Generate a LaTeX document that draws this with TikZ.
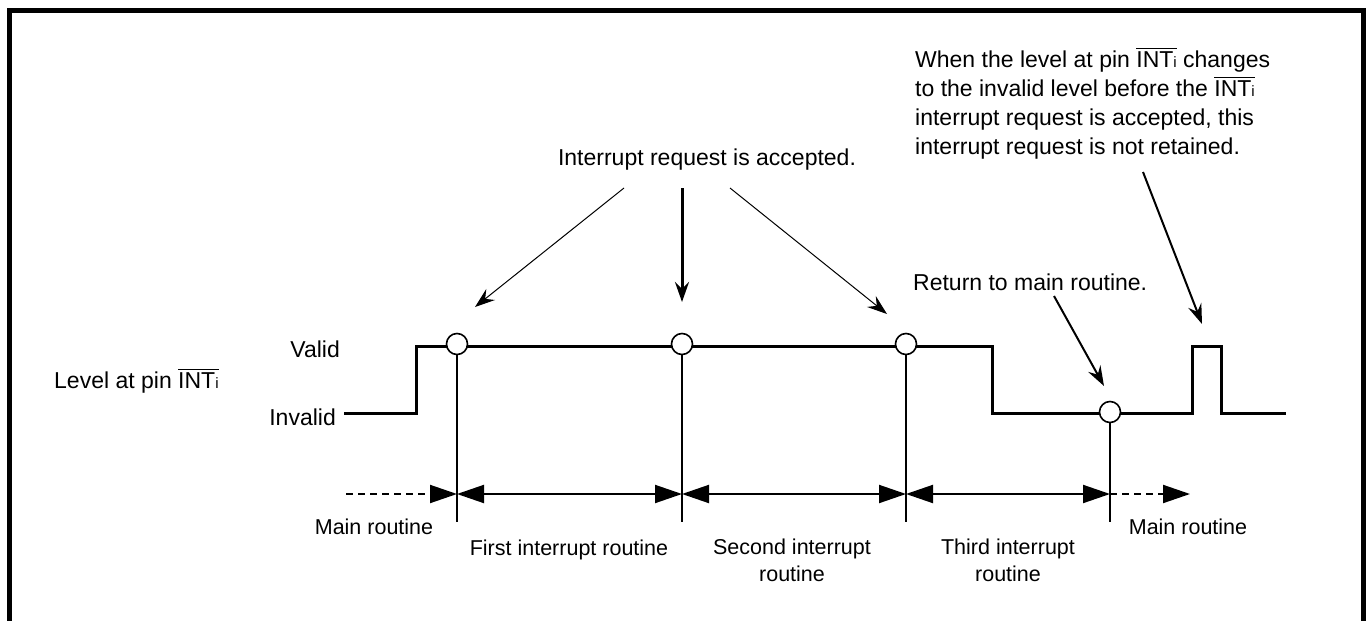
\documentclass[tikz,border=0pt]{standalone}
\usepackage{fontspec}
\setmainfont{Liberation Sans}
\usetikzlibrary{positioning,arrows.meta}
\newcommand{\intbar}{\vbox{\hrule height 1.3pt\kern 2pt\hbox{INT{\fontsize{15}{15}\selectfont i}}}}
\tikzset{
  frame/.style={line width=5.5pt, line join=miter},
  lvl/.style={line width=3pt, line join=miter},
  probe/.style={circle, draw, fill=white, line width=1.6pt, minimum size=21pt, inner sep=0pt},
  drop/.style={line width=1.6pt},
  spanarr/.style={{Triangle[length=27pt,width=18pt]}-{Triangle[length=27pt,width=18pt]}, line width=2pt},
  mainarr/.style={-{Triangle[length=27pt,width=18pt]}, line width=2pt, dash pattern=on 7pt off 5pt},
  callout/.style={-{Stealth[length=20pt,width=14pt,inset=7pt]}},
  lbl/.style={font=\fontsize{23}{29}\selectfont, inner sep=0pt},
  seglbl/.style={font=\fontsize{21.5}{27}\selectfont, inner sep=0pt, align=center}
}
\begin{document}
\begin{tikzpicture}[x=1pt, y=-1pt]
  \useasboundingbox (0,0) rectangle (1369,621);
  \draw[frame] (9.5,621) -- (9.5,10.5) -- (1363.5,10.5) -- (1363.5,621);

  % level at the pin
  \draw[lvl] (344,413) -- (416,413) -- (416,346) -- (992,346) -- (992,413)
    -- (1192,413) -- (1192,346) -- (1221,346) -- (1221,413) -- (1286,413);
  \node[lbl, anchor=base east] (valid) at (340,357) {Valid};
  \node[lbl, anchor=base east] (invalid) at (336,425) {Invalid};
  \node[lbl, anchor=base west] (pin) at (54,388) {Level at pin \intbar};

  % accept points
  \node[probe] (p1) at (457,344) {};
  \node[probe] (p2) at (682,344) {};
  \node[probe] (p3) at (906,344) {};
  \node[probe] (p4) at (1110,412) {};
  \foreach \i in {1,...,4} {
    \coordinate (b\i) at (p\i |- 0,522);
    \coordinate (a\i) at (p\i |- 0,494);
    \draw[drop] (p\i) -- (b\i);
  }
  \coordinate (a0) at (346,494);
  \coordinate (a5) at (1190,494);
  \draw[mainarr] (a0) -- (a1);
  \draw[spanarr] (a1) -- (a2);
  \draw[spanarr] (a2) -- (a3);
  \draw[spanarr] (a3) -- (a4);
  \draw[mainarr] (a4) -- (a5);

  \node[seglbl, anchor=base] (m1) at (374,534) {Main routine};
  \node[seglbl, anchor=base] (r1) at (569,555) {First interrupt routine};
  \node[seglbl, anchor=base] (r2) at (792,581) {Second interrupt\\routine};
  \node[seglbl, anchor=base] (r3) at (1008,581) {Third interrupt\\routine};
  \node[seglbl, anchor=base] (m2) at (1188,534) {Main routine};

  % callouts
  \node[lbl, anchor=base] (acc) at (707,165) {Interrupt request is accepted.};
  \coordinate (q1) at (624,188);
  \coordinate (q2) at (682,188);
  \coordinate (q3) at (730,188);
  \coordinate (t1) at (475,307);
  \coordinate (t2) at (682,302);
  \coordinate (t3) at (887,314);
  \draw[callout, line width=1pt] (q1) -- (t1);
  \draw[callout, line width=3pt] (q2) -- (t2);
  \draw[callout, line width=1pt] (q3) -- (t3);

  \node[lbl, anchor=base west] (ret) at (913,290) {Return to main routine.};
  \coordinate (rs) at (1054,296);
  \coordinate (rt) at (1104,386);
  \draw[callout, line width=2pt] (rs) -- (rt);

  \node[lbl, anchor=base west, align=left] (note) at (915,154)
    {When the level at pin \intbar{} changes\\
     to the invalid level before the \intbar\\
     interrupt request is accepted, this\\
     interrupt request is not retained.};
  \coordinate (ns) at (1143,172);
  \coordinate (nt) at (1202,324);
  \draw[callout, line width=2pt] (ns) -- (nt);
\end{tikzpicture}
\end{document}
